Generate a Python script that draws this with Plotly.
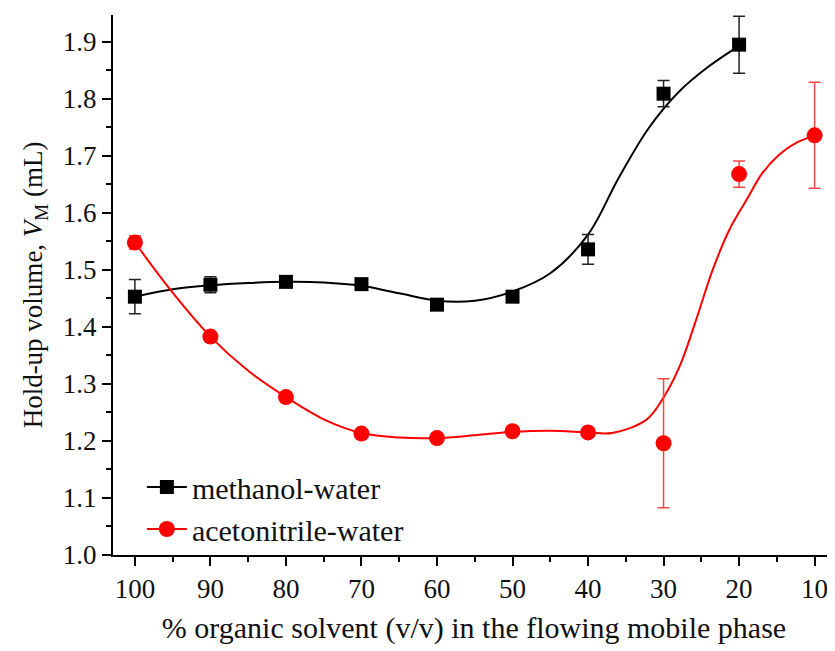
import plotly.graph_objects as go

# measured points
x_pts = [100, 90, 80, 70, 60, 50, 40, 30, 20]
meoh_y = [1.453, 1.474, 1.479, 1.475, 1.439, 1.453, 1.536, 1.809, 1.895]
meoh_err = [0.030, 0.014, 0.006, 0.006, 0.006, 0.006, 0.026, 0.023, 0.050]

acn_x = [100, 90, 80, 70, 60, 50, 40, 30, 20, 10]
acn_y = [1.548, 1.383, 1.277, 1.213, 1.205, 1.217, 1.215, 1.196, 1.668, 1.736]
acn_err = [0.012, 0.006, 0.006, 0.006, 0.006, 0.006, 0.006, 0.113, 0.023, 0.093]

# smooth fit curves
meoh_fit_x = [100, 95, 90, 85, 80, 75, 70, 65, 60, 55, 50, 45, 40, 36, 32, 28, 24, 20]
meoh_fit_y = [1.453, 1.466, 1.473, 1.477, 1.479, 1.478, 1.472, 1.459, 1.446, 1.446, 1.462, 1.494, 1.562, 1.660, 1.748, 1.812, 1.857, 1.893]

acn_fit_x = [100, 95, 90, 85, 80, 75, 70, 65, 60, 55, 50, 45, 40, 36.8, 32.3, 30.2, 27.9, 25.7, 23.5, 21.3, 19, 16.9, 14.7, 12.4, 10]
acn_fit_y = [1.548, 1.460, 1.383, 1.323, 1.277, 1.238, 1.214, 1.206, 1.205, 1.210, 1.216, 1.218, 1.215, 1.214, 1.237, 1.272, 1.330, 1.412, 1.500, 1.570, 1.623, 1.670, 1.702, 1.723, 1.736]

x_ticks = [100, 90, 80, 70, 60, 50, 40, 30, 20, 10]
y_ticks = [1.0, 1.1, 1.2, 1.3, 1.4, 1.5, 1.6, 1.7, 1.8, 1.9]

BLACK = "#000000"
RED = "#ff0000"
FONT = "'Liberation Serif', 'Times New Roman', 'DejaVu Serif', serif"

fig = go.Figure()

fig.add_trace(go.Scatter(x=meoh_fit_x, y=meoh_fit_y, mode="lines",
                         line=dict(color=BLACK, width=2, shape="spline", smoothing=1.0),
                         showlegend=False, hoverinfo="skip"))
fig.add_trace(go.Scatter(x=acn_fit_x, y=acn_fit_y, mode="lines",
                         line=dict(color=RED, width=2, shape="spline", smoothing=1.0),
                         showlegend=False, hoverinfo="skip"))

fig.add_trace(go.Scatter(x=x_pts, y=meoh_y, mode="markers",
                         marker=dict(symbol="square", size=14, color=BLACK),
                         error_y=dict(type="data", array=meoh_err, visible=True,
                                      color="#222222", thickness=1.5, width=6),
                         showlegend=False))
fig.add_trace(go.Scatter(x=acn_x, y=acn_y, mode="markers",
                         marker=dict(symbol="circle", size=16, color=RED),
                         error_y=dict(type="data", array=acn_err, visible=True,
                                      color="#f04848", thickness=1.5, width=6),
                         showlegend=False))

# legend entries
fig.add_trace(go.Scatter(x=[None], y=[None], mode="lines+markers", name="methanol-water",
                         line=dict(color=BLACK, width=2),
                         marker=dict(symbol="square", size=14, color=BLACK)))
fig.add_trace(go.Scatter(x=[None], y=[None], mode="lines+markers", name="acetonitrile-water",
                         line=dict(color=RED, width=2),
                         marker=dict(symbol="circle", size=16, color=RED)))

fig.update_layout(
    width=827, height=643,
    margin=dict(l=105, r=0, t=7, b=96),
    paper_bgcolor="white", plot_bgcolor="white",
    font=dict(family=FONT, size=27, color="#111111"),
    showlegend=True,
    legend=dict(x=0.04, y=0.0, xanchor="left", yanchor="bottom",
                bgcolor="rgba(0,0,0,0)", font=dict(family=FONT, size=30),
                itemwidth=40, tracegroupgap=0),
)

fig.update_xaxes(
    range=[102.9, 7.3], tickmode="array", tickvals=x_ticks,
    ticktext=[str(v) for v in x_ticks],
    showgrid=False, zeroline=False,
    showline=True, linecolor=BLACK, linewidth=2,
    ticks="outside", ticklen=9, tickwidth=2, tickcolor=BLACK,
    minor=dict(tickvals=[95, 85, 75, 65, 55, 45, 35, 25, 15], ticks="outside",
               ticklen=5, tickwidth=2, tickcolor=BLACK),
    tickfont=dict(family=FONT, size=27),
    title=dict(text="% organic solvent (v/v) in the flowing mobile phase",
               font=dict(family=FONT, size=30), standoff=14),
)
fig.update_yaxes(
    range=[1.0, 1.947], tickmode="array", tickvals=y_ticks,
    ticktext=["%.1f" % v for v in y_ticks],
    showgrid=False, zeroline=False,
    showline=True, linecolor=BLACK, linewidth=2,
    ticks="outside", ticklen=9, tickwidth=2, tickcolor=BLACK,
    minor=dict(tickvals=[1.05, 1.15, 1.25, 1.35, 1.45, 1.55, 1.65, 1.75, 1.85], ticks="outside",
               ticklen=5, tickwidth=2, tickcolor=BLACK),
    tickfont=dict(family=FONT, size=27),
    title=dict(text="Hold-up volume, <i>V</i><sub>M</sub> (mL)",
               font=dict(family=FONT, size=27), standoff=12),
)

fig.write_html("out.html")
